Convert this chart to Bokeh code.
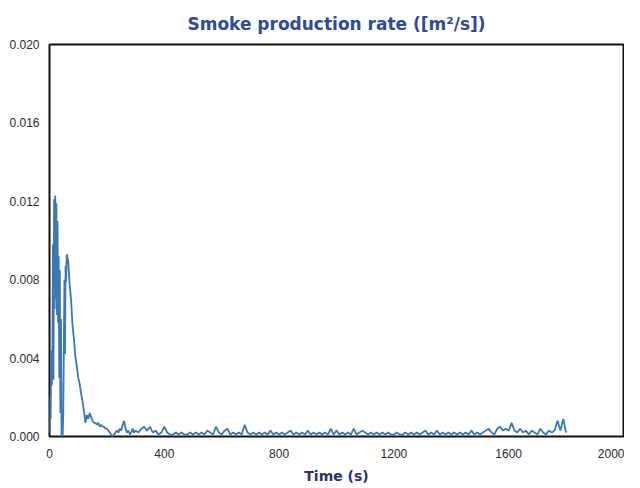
from bokeh.plotting import figure
from bokeh.models import Range1d, FixedTicker, PrintfTickFormatter
from bokeh.embed import file_html
from bokeh.resources import INLINE

# sample times (s): 2 s steps at the start, then 5 s, then 10 s
time_a = list(range(0, 60, 2))
time_b = list(range(60, 300, 5))
time_c = list(range(300, 1810, 10))

# smoke production rate (m2/s)
rate_a = [0.0002, 0.0021, 0.0009, 0.0044, 0.0026, 0.0042, 0.0098, 0.0029, 0.0121, 0.0065,
          0.0123, 0.0070, 0.0119, 0.0062, 0.0110, 0.0058, 0.0092, 0.0030, 0.0085, 0.0012,
          0.0060, 0.0001, 0.0000, 0.0001, 0.0012, 0.0046, 0.0080, 0.0042, 0.0087, 0.0079]
rate_b = [0.0093, 0.0090, 0.0078, 0.0070, 0.0057, 0.0050, 0.0041, 0.0036, 0.0030, 0.0027,
          0.0022, 0.0018, 0.0013, 0.0007, 0.0011, 0.0009, 0.0012, 0.0010, 0.0008, 0.0007,
          0.0007, 0.0006, 0.0007, 0.0005, 0.0006, 0.0005, 0.0005, 0.0004, 0.0004, 0.0003,
          0.0002, 0.0001, 0.0000, 0.0001, 0.0002, 0.0003, 0.0002, 0.0004, 0.0003, 0.0006,
          0.0008, 0.0004, 0.0002, 0.0003, 0.0001, 0.0002, 0.0004, 0.0002]
rate_c = [0.0003, 0.0002, 0.0004, 0.0005, 0.0003, 0.0005, 0.0002, 0.0003, 0.0001, 0.0002,
          0.0005, 0.0002, 0.0001, 0.0001, 0.0002, 0.0001, 0.0002, 0.0001, 0.0001, 0.0002,
          0.0001, 0.0002, 0.0001, 0.0002, 0.0001, 0.0003, 0.0002, 0.0001, 0.0005, 0.0002,
          0.0001, 0.0003, 0.0004, 0.0001, 0.0002, 0.0001, 0.0002, 0.0001, 0.0006, 0.0002,
          0.0001, 0.0002, 0.0001, 0.0002, 0.0001, 0.0002, 0.0001, 0.0003, 0.0001, 0.0002,
          0.0001, 0.0002, 0.0001, 0.0002, 0.0003, 0.0001, 0.0002, 0.0001, 0.0002, 0.0001,
          0.0003, 0.0001, 0.0002, 0.0001, 0.0002, 0.0001, 0.0002, 0.0001, 0.0004, 0.0001,
          0.0003, 0.0001, 0.0002, 0.0001, 0.0002, 0.0001, 0.0004, 0.0001, 0.0002, 0.0003,
          0.0002, 0.0001, 0.0002, 0.0001, 0.0002, 0.0001, 0.0002, 0.0001, 0.0002, 0.0001,
          0.0001, 0.0002, 0.0001, 0.0001, 0.0002, 0.0001, 0.0002, 0.0001, 0.0002, 0.0001,
          0.0002, 0.0003, 0.0001, 0.0002, 0.0001, 0.0003, 0.0001, 0.0002, 0.0001, 0.0002,
          0.0001, 0.0002, 0.0001, 0.0002, 0.0001, 0.0002, 0.0001, 0.0003, 0.0001, 0.0002,
          0.0001, 0.0002, 0.0003, 0.0004, 0.0002, 0.0001, 0.0004, 0.0005, 0.0003, 0.0004,
          0.0003, 0.0007, 0.0003, 0.0002, 0.0004, 0.0002, 0.0003, 0.0001, 0.0003, 0.0002,
          0.0001, 0.0004, 0.0002, 0.0001, 0.0003, 0.0002, 0.0003, 0.0008, 0.0003, 0.0009,
          0.0002]

x_ticks = [0, 400, 800, 1200, 1600, 2000]
y_ticks = [0.0, 0.004, 0.008, 0.012, 0.016, 0.020]

time = time_a + time_b + time_c
rate = rate_a + rate_b + rate_c

p = figure(
    title="Smoke production rate ([m\u00b2/s])",
    x_axis_label="Time (s)",
    frame_width=574,
    frame_height=392,
    x_range=Range1d(0, 2000),
    y_range=Range1d(0, 0.02),
    toolbar_location=None,
    output_backend="svg",
    min_border_left=49,
    min_border_right=1,
    min_border_top=43,
    min_border_bottom=2,
)

p.line(time, rate, line_color="#3b78b4", line_width=1.8)

p.title.align = "center"
p.title.text_font = "DejaVu Sans"
p.title.text_font_size = "17px"
p.title.text_color = "#2e4a9a"
p.title.offset = 0
p.title.standoff = 12
p.title.padding = 5

p.xaxis.ticker = FixedTicker(ticks=x_ticks)
p.yaxis.ticker = FixedTicker(ticks=y_ticks)
p.yaxis.formatter = PrintfTickFormatter(format="%.3f")
p.xaxis.formatter = PrintfTickFormatter(format="%d")

p.axis.major_label_text_font = "Liberation Sans"
p.axis.major_label_text_font_size = "12px"
p.axis.major_label_text_color = "#2a2a3a"
p.axis.axis_line_color = None
p.axis.major_tick_line_color = None
p.axis.minor_tick_line_color = None
p.yaxis.major_label_standoff = 4
p.xaxis.major_label_standoff = 6
p.xaxis.axis_label_text_font = "DejaVu Sans"
p.xaxis.axis_label_text_font_size = "14px"
p.xaxis.axis_label_text_font_style = "bold"
p.xaxis.axis_label_text_color = "#2a3370"
p.xaxis.axis_label_standoff = 7

p.grid.grid_line_color = None
p.outline_line_color = "#111111"
p.outline_line_width = 2
p.outline_line_alpha = 1.0

open("out.html", "w").write(file_html(p, INLINE))
